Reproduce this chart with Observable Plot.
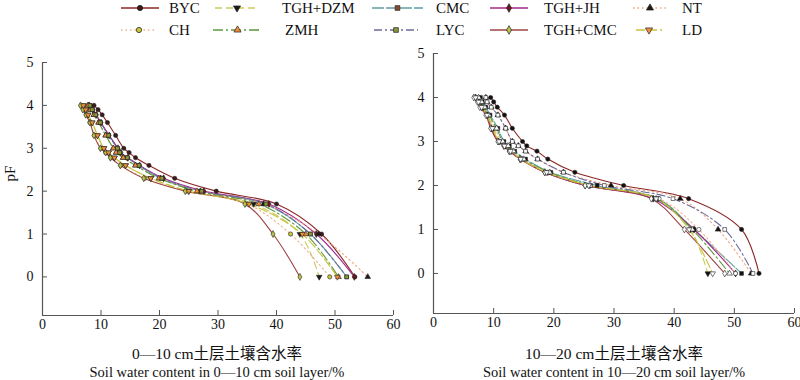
<!DOCTYPE html>
<html><head><meta charset="utf-8">
<script src="https://cdn.jsdelivr.net/npm/d3@7"></script>
<script src="https://cdn.jsdelivr.net/npm/@observablehq/plot@0.6"></script>
<style>
body{margin:0;background:#fff;font-family:"Liberation Serif","Times New Roman","Noto Sans CJK SC",serif;}
#wrap{position:relative;width:800px;height:380px;overflow:hidden;background:#fff;}
.panel{position:absolute;top:0;}
.xt{position:absolute;width:400px;text-align:center;font-size:14.5px;line-height:16px;color:#111;white-space:nowrap;}
.cjk{font-family:"Liberation Serif","Noto Sans CJK SC",serif;font-size:15.5px;}
#legend{position:absolute;left:0;top:0;z-index:2;}
#ylab{position:absolute;left:3px;top:165px;font-size:15px;transform:rotate(-90deg);transform-origin:center;color:#111;}
</style></head><body><div id="wrap"></div>
<script>
// ---- data ----
const seriesNames = ["BYC","TGH+DZM","CMC","TGH+JH","NT","CH","ZMH","LYC","TGH+CMC","LD"];
const pF = [4.0, 3.9, 3.78, 3.6, 3.3, 3.0, 2.9, 2.78, 2.6, 2.3, 2.0, 1.7, 1.0, 0];
// 0-10 cm layer: soil water content (%) per series, in pF order
const layer0_10_BYC    = [8.8, 9.5, 10.2, 11.1, 12.5, 13.9, 14.8, 15.9, 18.2, 22.6, 29.7, 40.0, 47.7, 53.4];
const layer0_10_TGHDZM = [7.0, 7.4, 7.8, 8.5, 9.4, 10.5, 11.3, 12.3, 14.2, 18.5, 25.0, 36.1, 44.0, 47.3];
const layer0_10_CMC    = [8.1, 8.5, 9.1, 9.9, 11.3, 12.8, 13.2, 14.5, 16.5, 20.2, 27.0, 38.0, 45.8, 52.0];
const layer0_10_TGHJH  = [8.0, 8.6, 9.2, 10.0, 11.4, 12.9, 13.4, 14.6, 16.6, 20.7, 27.6, 38.7, 46.8, 53.3];
const layer0_10_NT     = [7.8, 8.2, 8.8, 9.6, 10.8, 12.1, 12.6, 13.8, 15.9, 20.2, 27.0, 37.8, 47.2, 55.6];
const layer0_10_CH     = [6.6, 7.0, 7.5, 8.1, 8.9, 10.0, 10.8, 11.7, 13.4, 17.5, 24.6, 35.0, 42.4, 49.1];
const layer0_10_ZMH    = [7.8, 8.2, 8.8, 9.6, 10.8, 12.1, 12.6, 13.8, 15.9, 19.9, 26.4, 37.0, 45.0, 50.6];
const layer0_10_LYC    = [8.1, 8.5, 9.1, 9.9, 11.3, 12.8, 13.2, 14.5, 16.5, 20.4, 27.2, 38.2, 45.8, 52.0];
const layer0_10_TGHCMC = [6.5, 6.9, 7.4, 8.1, 8.8, 9.9, 10.8, 11.6, 13.3, 17.3, 24.4, 34.6, 39.4, 44.0];
const layer0_10_LD     = [7.0, 7.4, 7.8, 8.5, 9.4, 10.5, 11.3, 12.3, 14.2, 18.5, 25.0, 35.3, 44.4, 50.4];
// 10-20 cm layer
const layer10_20_BYC    = [9.5, 10.0, 10.6, 11.8, 13.1, 14.8, 15.5, 17.2, 19.0, 23.5, 31.6, 42.4, 51.2, 54.1];
const layer10_20_TGHDZM = [7.3, 7.7, 8.3, 9.0, 10.0, 11.0, 12.0, 12.9, 14.6, 19.0, 26.0, 37.3, 42.7, 45.6];
const layer10_20_CMC    = [7.8, 8.1, 8.7, 9.4, 10.7, 11.7, 12.6, 13.5, 15.3, 19.5, 27.2, 37.3, 43.3, 51.2];
const layer10_20_TGHJH  = [7.0, 7.5, 8.0, 8.9, 9.6, 10.8, 11.7, 12.6, 14.4, 18.5, 25.2, 36.5, 43.3, 50.2];
const layer10_20_NT     = [8.7, 8.9, 9.6, 10.7, 12.0, 13.1, 14.1, 15.3, 17.3, 21.6, 29.5, 41.0, 47.3, 52.8];
const layer10_20_CH     = [7.2, 7.8, 8.3, 9.1, 10.2, 11.3, 12.2, 13.0, 14.8, 19.0, 26.0, 37.5, 44.1, 50.2];
const layer10_20_ZMH    = [7.5, 8.0, 8.5, 9.2, 10.5, 11.5, 12.4, 13.3, 15.0, 19.3, 26.0, 37.0, 43.0, 49.2];
const layer10_20_LYC    = [8.7, 8.9, 9.6, 10.7, 12.0, 13.1, 14.1, 15.3, 17.3, 21.6, 28.4, 39.8, 48.4, 53.1];
const layer10_20_TGHCMC = [6.7, 7.3, 7.7, 8.7, 9.5, 10.7, 11.7, 12.6, 14.4, 18.5, 25.2, 36.2, 41.7, 48.4];
const layer10_20_LD     = [7.0, 7.5, 8.0, 8.9, 9.8, 10.9, 11.8, 12.8, 14.5, 18.8, 25.8, 37.0, 42.5, 46.4];
const layer0_10 = [layer0_10_BYC, layer0_10_TGHDZM, layer0_10_CMC, layer0_10_TGHJH, layer0_10_NT,
  layer0_10_CH, layer0_10_ZMH, layer0_10_LYC, layer0_10_TGHCMC, layer0_10_LD];
const layer10_20 = [layer10_20_BYC, layer10_20_TGHDZM, layer10_20_CMC, layer10_20_TGHJH, layer10_20_NT,
  layer10_20_CH, layer10_20_ZMH, layer10_20_LYC, layer10_20_TGHCMC, layer10_20_LD];
const xTicks = [0, 10, 20, 30, 40, 50, 60];
const yTicks = [0, 1, 2, 3, 4, 5];
const xTitles0 = ["0—10 cm土层土壤含水率", "Soil water content in 0—10 cm soil layer/%"];
const xTitles1 = ["10—20 cm土层土壤含水率", "Soil water content in 10—20 cm soil layer/%"];

// ---- styles ----
const triangleDown = {
  draw(context, size) {
    const s3 = Math.sqrt(3);
    const y = -Math.sqrt(size / (s3 * 3));
    context.moveTo(0, -y * 2);
    context.lineTo(-s3 * y, y);
    context.lineTo(s3 * y, y);
    context.closePath();
  }
};
const lineColors = ["#8c2626","#c9cc5c","#5f9fa3","#a3288e","#f2a27e","#f0b38a","#5c9a3e","#6b6b9e","#9e4444","#c9c23c"];
const dashes = [null,"7,4",  "12,2", null, "1.5,3", "1.5,3", "10,3,2,3", "8,3,2,3", null, "9,3"];
const symbols = ["circle", triangleDown, "square", "diamond", "triangle", "circle", "triangle", "square", "diamond", triangleDown];
const fillsTop = ["#3a1a1a","#1a1a1a","#8b4a2a","#6b1a1a","#1a1a1a","#c8c83a","#f08a3a","#8a9a3a","#b8c24a","#f0903a"];
const fillsSub = ["#111","#111","#111","#111","#111","#fff","#fff","#fff","#fff","#fff"];

const wrap = document.getElementById("wrap");

function panel(values, o) {
  const marks = [];
  values.forEach((vals, i) => {
    const data = pF.map((p, j) => ({x: vals[j], y: p}));
    marks.push(Plot.line(data, {x: "x", y: "y", stroke: lineColors[i], strokeWidth: 1.1,
      strokeDasharray: dashes[i] || undefined, curve: "catmull-rom"}));
  });
  values.forEach((vals, i) => {
    const data = pF.map((p, j) => ({x: vals[j], y: p}));
    marks.push(Plot.dot(data, {x: "x", y: "y", symbol: symbols[i], r: 2.1,
      fill: o.fills[i], stroke: "#222", strokeWidth: 0.6}));
  });
  marks.push(Plot.ruleY([o.yMin], {stroke: "#555", strokeWidth: 1.2}));
  marks.push(Plot.ruleX([0], {y1: o.yMin, y2: 5, stroke: "#555", strokeWidth: 1.2}));
  marks.push(Plot.axisX({ticks: xTicks, tickSize: 5, dy: -5, tickFormat: () => "", label: null, stroke: "#555"}));
  marks.push(Plot.axisX({ticks: xTicks, tickSize: 0, tickPadding: 4, tickFormat: "d", label: null, fontSize: 14, fill: "#111"}));
  marks.push(Plot.axisY({ticks: yTicks, tickSize: 5, dx: 5, tickFormat: () => "", label: null, stroke: "#555"}));
  marks.push(Plot.axisY({ticks: yTicks, tickSize: 0, tickPadding: 9, tickFormat: "d", label: null, fontSize: 14, fill: "#111"}));
  const svg = Plot.plot({
    width: 400, height: 340,
    marginLeft: o.ml, marginRight: o.mr, marginTop: o.mt, marginBottom: o.mb,
    x: {domain: [0, 60]},
    y: {domain: [o.yMin, 5]},
    style: {background: "transparent", fontFamily: "Liberation Serif, Times New Roman, serif", fontSize: "14px", color: "#111", overflow: "visible"},
    marks
  });
  svg.classList.add("panel");
  svg.style.left = o.left + "px";
  wrap.appendChild(svg);
}

panel(layer0_10, {left: 0, ml: 42, mr: 7, mt: 62, mb: 25, yMin: -0.9, fills: fillsTop});
panel(layer10_20, {left: 400, ml: 33, mr: 6, mt: 53, mb: 27, yMin: -0.91, fills: fillsSub});

// x titles
function titles(lines, center) {
  lines.forEach((t, k) => {
    const d = document.createElement("div");
    d.className = "xt" + (k === 0 ? " cjk" : "");
    d.style.left = (center - 200) + "px";
    d.style.top = (k === 0 ? 346 : 364) + "px";
    d.textContent = t;
    wrap.appendChild(d);
  });
}
titles(xTitles0, 217);
titles(xTitles1, 614);

const yl = document.createElement("div");
yl.id = "ylab"; yl.textContent = "pF";
wrap.appendChild(yl);

// legend
const legPos = [
  [121,159,169,8],[215,259,282,8],[372,423,436,8],[490,528,544,8],[633,667,682,8],
  [121,157,169,30],[213,262,285,30],[374,418,436,30],[490,528,544,30],[636,662,682,30]
];
const leg = d3.select(wrap).append("svg").attr("id","legend").attr("width",800).attr("height",45);
seriesNames.forEach((name, i) => {
  const [x1, x2, tx, y] = legPos[i];
  leg.append("line").attr("x1", x1).attr("x2", x2).attr("y1", y).attr("y2", y)
    .attr("stroke", lineColors[i]).attr("stroke-width", 1.6)
    .attr("stroke-dasharray", dashes[i] || null);
  const sym = typeof symbols[i] === "string"
    ? {circle: d3.symbolCircle, square: d3.symbolSquare, diamond: d3.symbolDiamond, triangle: d3.symbolTriangle}[symbols[i]]
    : symbols[i];
  leg.append("path").attr("d", d3.symbol(sym, 22)()).attr("transform", `translate(${(x1+x2)/2},${y})`)
    .attr("fill", fillsTop[i]).attr("stroke", "#222").attr("stroke-width", 0.7);
  leg.append("text").attr("x", tx).attr("y", y).attr("dy", "0.35em")
    .attr("font-family", "Liberation Serif, Times New Roman, serif").attr("font-size", 15)
    .attr("fill", "#111").text(name);
});
</script></body></html>
